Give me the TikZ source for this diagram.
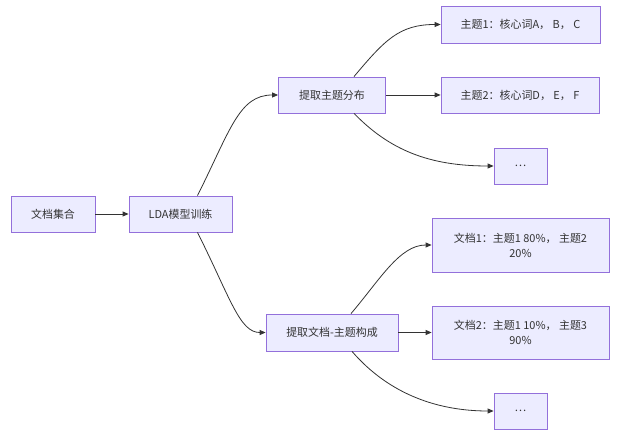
\documentclass[tikz,border=0pt]{standalone}
\usepackage{fontspec}
\setmainfont{Noto Sans CJK SC}
\usetikzlibrary{arrows.meta}
\definecolor{boxfill}{HTML}{ECECFF}
\definecolor{boxline}{HTML}{9370DB}
\definecolor{linkgray}{HTML}{333333}

\begin{document}
\begin{tikzpicture}[
      x=1bp, y=-1bp,
      pointer/.style={line width=0.8bp, draw=linkgray, -{Triangle[length=6bp,width=5bp]}},
      every node/.style={rectangle, draw=boxline, fill=boxfill, line width=0.8bp, text=linkgray,
        font=\fontsize{11}{15}\selectfont, align=center, inner sep=0pt}
      ]
      \useasboundingbox (0,0) rectangle (628,435);
      \node[minimum width=84bp, minimum height=36bp] (docs) at (53,214) {文档集合};
      \node[minimum width=103bp, minimum height=36bp] (lda) at (180.5,214) {LDA模型训练};
      \node[minimum width=107bp, minimum height=36bp] (topics) at (332,95) {提取主题分布};
      \node[minimum width=132bp, minimum height=37bp] (compose) at (332,332.5) {提取文档-主题构成};
      \node[minimum width=159bp, minimum height=37bp] (t1) at (520.5,24.5) {主题1：核心词A， B， C};
      \node[minimum width=158bp, minimum height=36bp] (t2) at (520,95) {主题2：核心词D， E， F};
      \node[minimum width=53bp, minimum height=36bp] (tdots) at (520.5,166) {…};
      \node[minimum width=177bp, minimum height=54bp] (d1) at (520.5,245) {文档1：主题1 80\%， 主题2\\20\%};
      \node[minimum width=177bp, minimum height=53bp] (d2) at (520.5,332.5) {文档2：主题1 10\%， 主题3\\90\%};
      \node[minimum width=53bp, minimum height=36bp] (ddots) at (520.5,411) {…};
      % links
      \draw[pointer] (docs.east) -- (lda.west);
      \draw[pointer] ([xshift=17bp]lda.north) .. controls +(33,-66) and +(-39,0) .. (topics.west);
      \draw[pointer] ([xshift=17bp]lda.south) .. controls +(33,66) and +(-26,0) .. (compose.west);
      \draw[pointer] ([xshift=22bp]topics.north) .. controls +(31,-37) and +(-41,0) .. (t1.west);
      \draw[pointer] (topics.east) -- (t2.west);
      \draw[pointer] ([xshift=22bp]topics.south) .. controls +(36,37) and +(-64,0) .. (tdots.west);
      \draw[pointer] ([xshift=19bp]compose.north) .. controls +(29,-34) and +(-32,0) .. (d1.west);
      \draw[pointer] (compose.east) -- (d2.west);
      \draw[pointer] ([xshift=20bp]compose.south) .. controls +(38,44) and +(-54,0) .. (ddots.west);
    \end{tikzpicture}
\end{document}
